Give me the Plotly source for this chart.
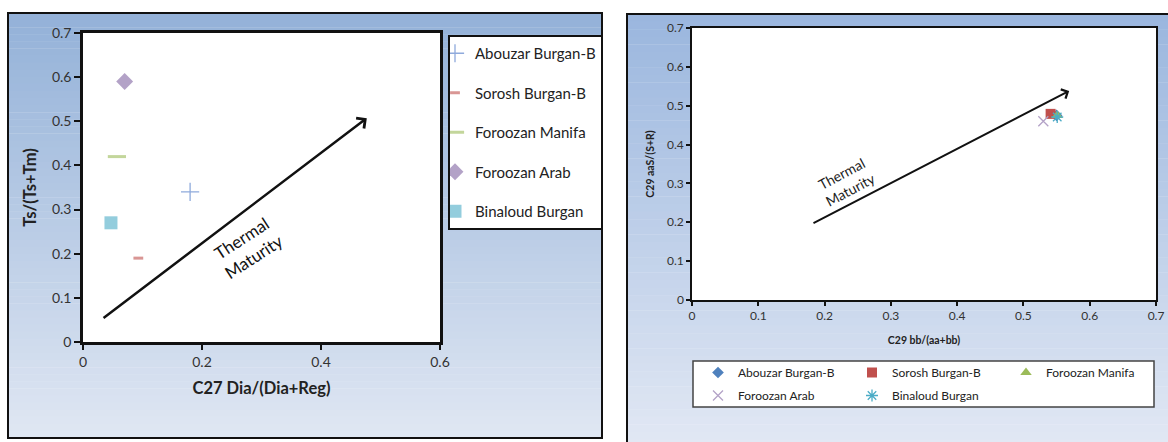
import plotly.graph_objects as go

W, H = 1168, 442

# ---------------- data ----------------
series_names = ["Abouzar Burgan-B", "Sorosh Burgan-B", "Foroozan Manifa",
                "Foroozan Arab", "Binaloud Burgan"]

# left chart: C27 Dia/(Dia+Reg) vs Ts/(Ts+Tm)
left_x = [0.18, 0.093, 0.057, 0.070, 0.047]
left_y = [0.34, 0.19, 0.42, 0.59, 0.27]

# right chart: C29 bb/(aa+bb) vs C29 aaS/(S+R)
right_x = [0.550, 0.541, 0.551, 0.530, 0.551]
right_y = [0.475, 0.479, 0.475, 0.460, 0.471]

left_xticks = [0, 0.2, 0.4, 0.6]
left_xlabels = ["0", "0.2", "0.4", "0.6"]
left_yticks = [0, 0.1, 0.2, 0.3, 0.4, 0.5, 0.6, 0.7]
left_ylabels = ["0", "0.1", "0.2", "0.3", "0.4", "0.5", "0.6", "0.7"]
right_ticks = [0, 0.1, 0.2, 0.3, 0.4, 0.5, 0.6, 0.7]
right_labels = ["0", "0.1", "0.2", "0.3", "0.4", "0.5", "0.6", "0.7"]

# thermal maturity arrows (tail -> head), in data units
left_arrow_tail = (0.032, 0.052)
left_arrow_head = (0.477, 0.507)
right_arrow_tail = (0.181, 0.196)
right_arrow_head = (0.569, 0.538)
left_label_pos = (0.276, 0.215)
right_label_pos = (0.232, 0.306)

# ---------------- styles ----------------
FONT = "Lato"
left_styles = [
    dict(symbol="cross-thin-open", size=13, color="#8FAADC", line=dict(width=1.3, color="#8FAADC")),
    dict(symbol="line-ew-open", size=7, color="#D99694", line=dict(width=3, color="#D99694")),
    dict(symbol="line-ew-open", size=13, color="#C3D69B", line=dict(width=3, color="#C3D69B")),
    dict(symbol="diamond", size=13, color="#B3A2C7", line=dict(width=0)),
    dict(symbol="square", size=13, color="#93CDDD", line=dict(width=0)),
]
right_styles = [
    dict(symbol="diamond", size=9, color="#4F81BD", line=dict(width=0)),
    dict(symbol="square", size=10, color="#C0504D", line=dict(width=0)),
    dict(symbol="triangle-up", size=10, color="#9BBB59", line=dict(width=0)),
    dict(symbol="x-thin-open", size=10, color="#B3A2C7", line=dict(width=1.3, color="#B3A2C7")),
    dict(symbol="asterisk-open", size=10, color="#4BACC6", line=dict(width=1.3, color="#4BACC6")),
]
# right legend: first three entries on row one, the rest on row two
right_legend_rows = ["legend2", "legend2", "legend2", "legend3", "legend3"]


def px_x(p):
    return p / W


def px_y(p):
    return 1 - p / H


fig = go.Figure()

for i, name in enumerate(series_names):
    fig.add_trace(go.Scatter(
        x=[left_x[i]], y=[left_y[i]], mode="markers", name=name,
        marker=left_styles[i], xaxis="x", yaxis="y",
        legend="legend", legendgroup="L%d" % i))

for i, name in enumerate(series_names):
    fig.add_trace(go.Scatter(
        x=[right_x[i]], y=[right_y[i]], mode="markers", name=name,
        marker=right_styles[i], xaxis="x2", yaxis="y2",
        legend=right_legend_rows[i], legendgroup="R%d" % i))

# ---------------- backgrounds (gradient frames) ----------------
shapes = []


def lerp(c1, c2, t):
    a = [int(c1[i:i + 2], 16) for i in (1, 3, 5)]
    b = [int(c2[i:i + 2], 16) for i in (1, 3, 5)]
    return "#%02x%02x%02x" % tuple(round(a[k] + (b[k] - a[k]) * t) for k in range(3))


def gradient_frame(x0, x1, y0, y1, ctop, cbot, n=60):
    for k in range(n):
        ya = y0 + (y1 - y0) * k / n
        yb = y0 + (y1 - y0) * (k + 1) / n
        shapes.append(dict(type="rect", xref="paper", yref="paper", layer="below",
                           x0=px_x(x0), x1=px_x(x1), y0=px_y(yb) - 0.001, y1=px_y(ya),
                           fillcolor=lerp(ctop, cbot, (k + 0.5) / n), line=dict(width=0)))


gradient_frame(8, 602, 13, 438, "#93B1D8", "#E0E7F3")
gradient_frame(627, 1180, 14, 470, "#9AB6DE", "#E6EBF5")
# frame borders
shapes.append(dict(type="rect", xref="paper", yref="paper", layer="below",
                   x0=px_x(8), x1=px_x(602), y0=px_y(438), y1=px_y(13),
                   line=dict(color="#111111", width=2), fillcolor="rgba(0,0,0,0)"))
shapes.append(dict(type="rect", xref="paper", yref="paper", layer="below",
                   x0=px_x(627), x1=px_x(1190), y0=px_y(480), y1=px_y(14),
                   line=dict(color="#111111", width=2), fillcolor="rgba(0,0,0,0)"))
# white plot areas
shapes.append(dict(type="rect", xref="paper", yref="paper", layer="below",
                   x0=px_x(83), x1=px_x(440), y0=px_y(342), y1=px_y(33),
                   fillcolor="white", line=dict(width=0)))
shapes.append(dict(type="rect", xref="paper", yref="paper", layer="below",
                   x0=px_x(692), x1=px_x(1156), y0=px_y(300), y1=px_y(28),
                   fillcolor="white", line=dict(width=0)))
# right legend box (entries are drawn by legend2/legend3 on top)
shapes.append(dict(type="rect", xref="paper", yref="paper", layer="below",
                   x0=px_x(693), x1=px_x(1154), y0=px_y(407), y1=px_y(361),
                   fillcolor="white", line=dict(color="#444444", width=1.5)))

# ---------------- annotations ----------------
annotations = [
    dict(x=left_arrow_head[0], y=left_arrow_head[1], ax=left_arrow_tail[0], ay=left_arrow_tail[1],
         xref="x", yref="y", axref="x", ayref="y", text="", showarrow=True,
         arrowhead=4, arrowsize=1.0, arrowwidth=2.5, arrowcolor="#111111"),
    dict(x=right_arrow_head[0], y=right_arrow_head[1], ax=right_arrow_tail[0], ay=right_arrow_tail[1],
         xref="x2", yref="y2", axref="x2", ayref="y2", text="", showarrow=True,
         arrowhead=4, arrowsize=1.0, arrowwidth=2.0, arrowcolor="#111111"),
    dict(x=left_label_pos[0], y=left_label_pos[1], xref="x", yref="y", showarrow=False,
         text="Thermal<br>Maturity", textangle=-33,
         font=dict(family=FONT, size=17, color="#111111")),
    dict(x=right_label_pos[0], y=right_label_pos[1], xref="x2", yref="y2", showarrow=False,
         text="Thermal<br>Maturity", textangle=-28,
         font=dict(family=FONT, size=14, color="#222222")),
]

tickfont_l = dict(family=FONT, size=14, color="#333333")
tickfont_r = dict(family=FONT, size=12, color="#333333")

fig.update_layout(
    width=W, height=H,
    margin=dict(l=0, r=0, t=0, b=0, autoexpand=False),
    paper_bgcolor="white",
    plot_bgcolor="rgba(0,0,0,0)",
    shapes=shapes,
    annotations=annotations,
    xaxis=dict(domain=[px_x(83), px_x(440)], range=[0, 0.6], anchor="y",
               tickvals=left_xticks, ticktext=left_xlabels, tickfont=tickfont_l,
               showline=True, linecolor="#111111", linewidth=2.5, mirror=True,
               ticks="outside", ticklen=5, tickwidth=2, tickcolor="#111111",
               showgrid=False, zeroline=False, automargin=False,
               title=dict(text="<b>C27 Dia/(Dia+Reg)</b>", standoff=14,
                          font=dict(family=FONT, size=16.5, color="#222222"))),
    yaxis=dict(domain=[px_y(342), px_y(33)], range=[0, 0.7], anchor="x",
               tickvals=left_yticks, ticktext=left_ylabels, tickfont=tickfont_l,
               showline=True, linecolor="#111111", linewidth=2.5, mirror=True,
               ticks="outside", ticklen=6, tickwidth=2, tickcolor="#111111",
               showgrid=False, zeroline=False, automargin=False,
               title=dict(text="<b>Ts/(Ts+Tm)</b>", standoff=12,
                          font=dict(family=FONT, size=16.5, color="#222222"))),
    xaxis2=dict(domain=[px_x(692), px_x(1156)], range=[0, 0.7], anchor="y2",
                tickvals=right_ticks, ticktext=right_labels, tickfont=tickfont_r,
                showline=True, linecolor="#111111", linewidth=1.5, mirror=True,
                ticks="outside", ticklen=4, tickwidth=1.5, tickcolor="#111111",
                showgrid=False, zeroline=False, automargin=False,
                title=dict(text="<b>C29 bb/(aa+bb)</b>", standoff=14,
                           font=dict(family=FONT, size=10.5, color="#222222"))),
    yaxis2=dict(domain=[px_y(300), px_y(28)], range=[0, 0.7], anchor="x2",
                tickvals=right_ticks, ticktext=right_labels, tickfont=tickfont_r,
                showline=True, linecolor="#111111", linewidth=1.5, mirror=True,
                ticks="outside", ticklen=4, tickwidth=1.5, tickcolor="#111111",
                showgrid=False, zeroline=False, automargin=False,
                title=dict(text="<b>C29 aaS/(S+R)</b>", standoff=10,
                           font=dict(family=FONT, size=10.5, color="#222222"))),
    legend=dict(x=px_x(448), y=px_y(35), xanchor="left", yanchor="top",
                xref="paper", yref="paper",
                bgcolor="white", bordercolor="#111111", borderwidth=2,
                font=dict(family=FONT, size=15, color="#222222"),
                tracegroupgap=17, indentation=-15, orientation="v"),
    legend2=dict(x=px_x(702), y=px_y(358), xanchor="left", yanchor="top",
                 xref="paper", yref="paper", orientation="h",
                 bgcolor="rgba(0,0,0,0)", borderwidth=0,
                 font=dict(family=FONT, size=12, color="#222222"),
                 entrywidth=113, entrywidthmode="pixels", indentation=-4),
    legend3=dict(x=px_x(702), y=px_y(381), xanchor="left", yanchor="top",
                 xref="paper", yref="paper", orientation="h",
                 bgcolor="rgba(0,0,0,0)", borderwidth=0,
                 font=dict(family=FONT, size=12, color="#222222"),
                 entrywidth=113, entrywidthmode="pixels", indentation=-4),
    showlegend=True,
)

fig.write_html("out.html")
